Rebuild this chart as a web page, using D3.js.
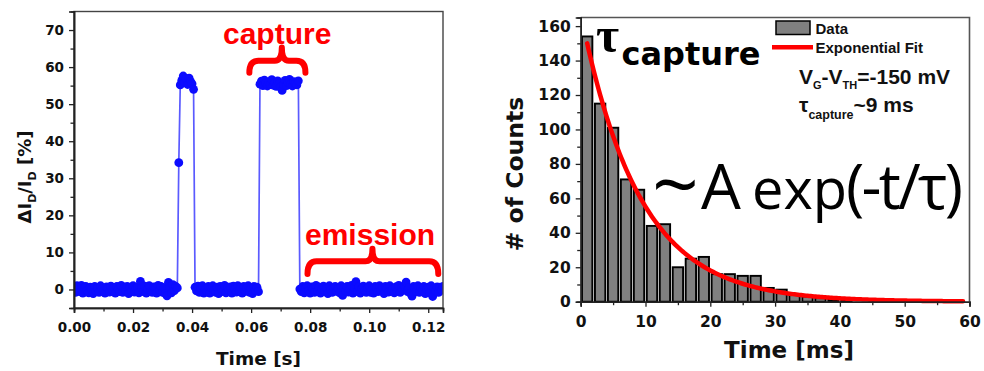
<!DOCTYPE html>
<html>
<head>
<meta charset="utf-8">
<script src="https://cdn.jsdelivr.net/npm/d3@7"></script>
<style>
  body { margin: 0; background: #fff; }
  svg { display: block; }
</style>
</head>
<body>
<svg id="chart" width="984" height="371"></svg>
<script>
// ---------- RTN trace: relative drain-current change vs time ----------
const sampleStep = 0.0005; // s between trace samples

const traceBaselineA = [
  0.6, -0.8, 1.0, 0.2, -0.6, 1.1, -1.0, 0.4, 0.8, -0.3,
  -0.9, 0.6, 0.1, -1.1, 0.8, -0.5, 0.4, -0.8, 1.0, 0.1,
  -0.4, -1.0, 0.7, 0.3, -0.7, 0.9, -0.1, 0.5, -1.0, 0.8,
  0.0, -0.6, 1.1, -0.8, 0.4, -0.2, 0.8, -1.1, 0.6, -0.4,
  1.0, -0.7, 0.2, 0.7, -0.9, 2.2, 0.4, -0.6, 0.9, -1.0,
  0.1, 1.0, -0.5, -0.8, 0.7, 0.3, -1.0, 1.1, -0.1, 0.8,
  -0.8, 0.5, -1.1, -1.7, 1.9, 0.6, -0.9, 1.3, -0.3, 0.8,
  0.4
];
const traceEdge = [34.2];
const tracePulseA = [55.2, 56.4, 57.6, 55.8, 56.9, 55.3, 57.0, 56.1, 55.5, 54.0];
const traceBaselineB = [
  0.6, -0.4, 0.9, -0.8, 0.3, 1.0, -1.0, 0.1, -0.6, 0.8,
  -1.0, 0.5, 1.0, -0.2, -0.8, 0.6, -1.1, 0.8, 0.2, -0.6,
  1.1, -0.9, 0.4, -0.1, 0.7, -1.0, 0.9, 0.1, -0.7, 1.0,
  -0.4, 0.6, -1.0, 0.8, -0.5, 0.3, 1.0, -0.8, 0.4, -1.1,
  0.8, -0.3, 0.6, -0.6
];
const tracePulseB = [
  55.4, 56.2, 55.0, 56.5, 55.7, 54.9, 56.0, 55.3, 56.6, 55.1,
  55.8, 54.8, 56.3, 55.5, 54.6, 53.7, 55.2, 56.4, 55.0, 55.9,
  56.7, 55.4, 54.9, 56.1, 55.6, 55.2, 56.3
];
const traceBaselineC = [
  0.1, -0.6, 0.8, -0.9, 0.4, 1.0, -0.3, -1.0, 0.7, 0.2,
  -0.8, 1.1, -0.4, 0.6, -1.0, 0.1, 0.9, -0.6, 0.4, -1.1,
  1.0, -0.1, -0.8, 0.6, 0.8, -0.5, 0.3, -0.9, 1.0, -1.6,
  0.4, -0.4, 0.8, -0.7, 0.1, 1.1, -1.0, 0.5, 2.1, -0.6,
  0.7, -1.0, 0.2, 0.9, -0.4, -0.8, 0.6, 1.0, -0.8, 0.0,
  -1.0, 0.8, 0.4, -0.6, 1.0, -0.2, 0.6, -1.1, 0.8, 0.3,
  -0.7, 1.0, -0.4, 0.1, -0.9, 0.7, -0.5, 1.1, -0.8, 0.4,
  -0.1, 0.9, 2.0, -0.6, 0.4, -1.0, -1.8, 0.8, 0.2, -0.6,
  1.0, -0.8, 0.5, -0.3, 0.8, -1.1, 0.1, 0.6, -0.9, 1.0,
  -1.9, 0.3, -0.4, 0.7, -0.8, 0.6, -0.2, 0.8
];
const timeTicks = [0, 0.02, 0.04, 0.06, 0.08, 0.10, 0.12];
const timeMinorTicks = [0.01, 0.03, 0.05, 0.07, 0.09, 0.11];
const ratioTicks = [0, 10, 20, 30, 40, 50, 60, 70];
const ratioMinorTicks = [5, 15, 25, 35, 45, 55, 65];

// ---------- capture-time histogram ----------
const binWidthMs = 2;
const captureCounts = [154, 115, 101, 71, 65, 44, 45, 20, 25, 26,
                       16, 16, 15, 15, 8, 7, 4, 3, 2, 1,
                       1, 0, 0, 1, 0, 0, 0, 0, 0, 0];
const countTicks = [0, 20, 40, 60, 80, 100, 120, 140, 160];
const countMinorTicks = [10, 30, 50, 70, 90, 110, 130, 150];
const msTicks = [0, 10, 20, 30, 40, 50, 60];
const msMinorTicks = [5, 15, 25, 35, 45, 55];
// exponential fit, tau_capture ~ 9 ms
const fitTau = 9;
const fitStartMs = 1;
const fitEndMs = 59;
const fitValueAtStart = 150;

const svg = d3.select("#chart");
const boldSans = "'DejaVu Sans', Verdana, sans-serif";
const arialLike = "'Liberation Sans', Arial, sans-serif";

// ================= left panel =================
const L = { left: 74, right: 443, top: 11.5, bottom: 308 };
const xT = d3.scaleLinear().domain([0, 0.125]).range([L.left, L.right]);
const yR = d3.scaleLinear().domain([-5, 75]).range([L.bottom, L.top]);

const traceValues = [].concat(traceBaselineA, traceEdge, tracePulseA,
  traceBaselineB, tracePulseB, traceBaselineC);
const trace = traceValues.map((v, i) => ({ t: i * sampleStep, v }));

svg.append("defs").append("clipPath").attr("id", "clipL")
  .append("rect").attr("x", L.left).attr("y", L.top)
  .attr("width", L.right - L.left).attr("height", L.bottom - L.top);

const gTrace = svg.append("g").attr("clip-path", "url(#clipL)");
gTrace.append("path")
  .datum(trace)
  .attr("fill", "none")
  .attr("stroke", "#5a5aff")
  .attr("stroke-width", 1.7)
  .attr("d", d3.line().x(d => xT(d.t)).y(d => yR(d.v)));
gTrace.selectAll("circle").data(trace).join("circle")
  .attr("cx", d => xT(d.t)).attr("cy", d => yR(d.v))
  .attr("r", 4.4).attr("fill", "#0b0bff");

// frame
svg.append("rect").attr("x", L.left).attr("y", L.top)
  .attr("width", L.right - L.left).attr("height", L.bottom - L.top)
  .attr("fill", "none").attr("stroke", "#444").attr("stroke-width", 1.4);

function styleAxis(g, fs) {
  g.select(".domain").attr("stroke", "#222").attr("stroke-width", 1.6);
  g.selectAll(".tick line").attr("stroke", "#222").attr("stroke-width", 1.3);
  g.selectAll(".tick text").attr("font-family", boldSans).attr("font-weight", "bold")
    .attr("font-size", fs).attr("fill", "#111");
}

const axXL = svg.append("g").attr("transform", `translate(0,${L.bottom})`)
  .call(d3.axisBottom(xT).tickValues(timeTicks).tickSize(5).tickPadding(9)
    .tickFormat(d3.format(".2f")));
styleAxis(axXL, 13.5);
const axXLm = svg.append("g").attr("transform", `translate(0,${L.bottom})`)
  .call(d3.axisBottom(xT).tickValues(timeMinorTicks).tickSize(3.5).tickFormat(""));
styleAxis(axXLm, 13.5);

const axYL = svg.append("g").attr("transform", `translate(${L.left},0)`)
  .call(d3.axisLeft(yR).tickValues(ratioTicks).tickSize(5).tickPadding(5));
styleAxis(axYL, 13.5);
const axYLm = svg.append("g").attr("transform", `translate(${L.left},0)`)
  .call(d3.axisLeft(yR).tickValues(ratioMinorTicks).tickSize(3.5).tickFormat(""));
styleAxis(axYLm, 13.5);

svg.append("text").attr("x", (L.left + L.right) / 2).attr("y", 365)
  .attr("text-anchor", "middle").attr("font-family", boldSans).attr("font-weight", "bold")
  .attr("font-size", 18.5).attr("fill", "#111").text("Time [s]");

const yTitleL = svg.append("text")
  .attr("transform", "translate(31,177) rotate(-90)")
  .attr("text-anchor", "middle").attr("font-family", boldSans).attr("font-weight", "bold")
  .attr("font-size", 18).attr("fill", "#111");
yTitleL.append("tspan").text("ΔI");
yTitleL.append("tspan").attr("font-size", 11).attr("dy", 5).text("D");
yTitleL.append("tspan").attr("dy", -5).text("/I");
yTitleL.append("tspan").attr("font-size", 11).attr("dy", 5).text("D");
yTitleL.append("tspan").attr("dy", -5).text(" [%]");

// annotations: braces + labels
function brace(x0, x1, xm, yEnd, yBar, yTip) {
  const r = 7;
  return `M${x0},${yEnd} Q${x0},${yBar} ${x0 + r + 2},${yBar} L${xm - r},${yBar} ` +
         `Q${xm},${yBar} ${xm},${yTip} Q${xm},${yBar} ${xm + r},${yBar} ` +
         `L${x1 - r - 2},${yBar} Q${x1},${yBar} ${x1},${yEnd}`;
}
svg.append("path")
  .attr("d", brace(xT(0.0594), xT(0.0784), xT(0.0704), yR(58.5), yR(61.7), yR(65.3)))
  .attr("fill", "none").attr("stroke", "#ff0000").attr("stroke-width", 6)
  .attr("stroke-linecap", "round").attr("stroke-linejoin", "round");
svg.append("path")
  .attr("d", brace(xT(0.0791), xT(0.1234), xT(0.1011), yR(4.2), yR(7.6), yR(11.0)))
  .attr("fill", "none").attr("stroke", "#ff0000").attr("stroke-width", 6)
  .attr("stroke-linecap", "round").attr("stroke-linejoin", "round");
svg.append("text").attr("x", 223).attr("y", 43.5)
  .attr("font-family", arialLike).attr("font-weight", "bold").attr("font-size", 30)
  .attr("fill", "#ff0000").text("capture");
svg.append("text").attr("x", 305).attr("y", 245)
  .attr("font-family", arialLike).attr("font-weight", "bold").attr("font-size", 30)
  .attr("fill", "#ff0000").text("emission");

// ================= right panel =================
const R = { left: 580.7, right: 969.5, top: 17.5, bottom: 301.7 };
const xM = d3.scaleLinear().domain([0, 60]).range([R.left, R.right]);
const yC = d3.scaleLinear().domain([0, 165]).range([R.bottom, R.top]);

const bins = captureCounts.map((c, i) => ({ x0: i * binWidthMs, x1: (i + 1) * binWidthMs, c }));
svg.append("g").selectAll("rect").data(bins.filter(b => b.c > 0)).join("rect")
  .attr("x", d => xM(d.x0) + 1.3)
  .attr("width", d => xM(d.x1) - xM(d.x0) - 2.6)
  .attr("y", d => yC(d.c))
  .attr("height", d => yC(0) - yC(d.c))
  .attr("fill", "#808080").attr("stroke", "#000").attr("stroke-width", 1.9);

const fitPts = d3.range(fitStartMs, fitEndMs + 0.001, 0.25)
  .map(t => [t, fitValueAtStart * Math.exp(-(t - fitStartMs) / fitTau)]);
svg.append("path").datum(fitPts)
  .attr("fill", "none").attr("stroke", "#ff0000").attr("stroke-width", 4.5)
  .attr("stroke-linecap", "round")
  .attr("d", d3.line().x(d => xM(d[0])).y(d => yC(d[1])));

// frame
svg.append("path")
  .attr("d", `M${R.left},${R.top} L${R.right},${R.top} L${R.right},${R.bottom}`)
  .attr("fill", "none").attr("stroke", "#555").attr("stroke-width", 1.6);

const axXR = svg.append("g").attr("transform", `translate(0,${R.bottom})`)
  .call(d3.axisBottom(xM).tickValues(msTicks).tickSize(5).tickPadding(9));
styleAxis(axXR, 15.5);
const axXRm = svg.append("g").attr("transform", `translate(0,${R.bottom})`)
  .call(d3.axisBottom(xM).tickValues(msMinorTicks).tickSize(3.5).tickFormat(""));
styleAxis(axXRm, 15.5);
const axYR = svg.append("g").attr("transform", `translate(${R.left},0)`)
  .call(d3.axisLeft(yC).tickValues(countTicks).tickSize(5).tickPadding(5));
styleAxis(axYR, 15.5);
const axYRm = svg.append("g").attr("transform", `translate(${R.left},0)`)
  .call(d3.axisLeft(yC).tickValues(countMinorTicks).tickSize(3.5).tickFormat(""));
styleAxis(axYRm, 15.5);

svg.append("text").attr("x", 789).attr("y", 358)
  .attr("text-anchor", "middle").attr("font-family", boldSans).attr("font-weight", "bold")
  .attr("font-size", 23).attr("fill", "#111").text("Time [ms]");
svg.append("text").attr("transform", "translate(523,174) rotate(-90)")
  .attr("text-anchor", "middle").attr("font-family", boldSans).attr("font-weight", "bold")
  .attr("font-size", 23.5).attr("fill", "#111").text("# of Counts");

// legend
svg.append("rect").attr("x", 776).attr("y", 21).attr("width", 34).attr("height", 13.5)
  .attr("fill", "#808080").attr("stroke", "#000").attr("stroke-width", 1.5);
svg.append("text").attr("x", 815.5).attr("y", 33.5)
  .attr("font-family", arialLike).attr("font-weight", "bold").attr("font-size", 15)
  .attr("fill", "#111").text("Data");
svg.append("line").attr("x1", 772).attr("x2", 813).attr("y1", 47.3).attr("y2", 47.3)
  .attr("stroke", "#ff0000").attr("stroke-width", 4.5);
svg.append("text").attr("x", 815.5).attr("y", 53.3)
  .attr("font-family", arialLike).attr("font-weight", "bold").attr("font-size", 15)
  .attr("fill", "#111").text("Exponential Fit");

// bias condition + extracted time constant
const cond = svg.append("text").attr("x", 799).attr("y", 84)
  .attr("font-family", arialLike).attr("font-weight", "bold").attr("font-size", 21)
  .attr("fill", "#111");
cond.append("tspan").text("V");
cond.append("tspan").attr("font-size", 11).attr("dy", 5).text("G");
cond.append("tspan").attr("dy", -5).text("-V");
cond.append("tspan").attr("font-size", 11).attr("dy", 5).text("TH");
cond.append("tspan").attr("dy", -5).text("=-150 mV");

const tauTxt = svg.append("text").attr("x", 799).attr("y", 111.5)
  .attr("font-family", arialLike).attr("font-weight", "bold").attr("font-size", 21)
  .attr("fill", "#111");
tauTxt.append("tspan").text("τ");
tauTxt.append("tspan").attr("font-size", 12.5).attr("dy", 7).text("capture");
tauTxt.append("tspan").attr("dy", -7).text("~9 ms");

// large tau_capture label
svg.append("text").attr("x", 596).attr("y", 51.7)
  .attr("font-family", "'Liberation Serif', 'Times New Roman', serif").attr("font-size", 50)
  .attr("font-weight", "bold").attr("fill", "#000").text("τ");
svg.append("text").attr("x", 621.5).attr("y", 65)
  .attr("font-family", boldSans).attr("font-weight", "bold").attr("font-size", 32)
  .attr("fill", "#000").text("capture");

// fit model expression
const modelFont = "'Open Sans', 'Noto Sans', sans-serif";
const model = svg.append("text").attr("y", 208.5)
  .attr("font-family", modelFont).attr("font-size", 60).attr("fill", "#000");
model.append("tspan").attr("x", 652).attr("y", 214).attr("font-size", 82).text("~");
model.append("tspan").attr("x", 701).attr("y", 208.5).attr("font-size", 63).text("A");
model.append("tspan").attr("x", 752).attr("font-size", 56).text("exp");
model.append("tspan").attr("x", 846).attr("font-size", 62)
  .attr("textLength", 117).attr("lengthAdjust", "spacing").text("(-t/τ)");
</script>
</body>
</html>
